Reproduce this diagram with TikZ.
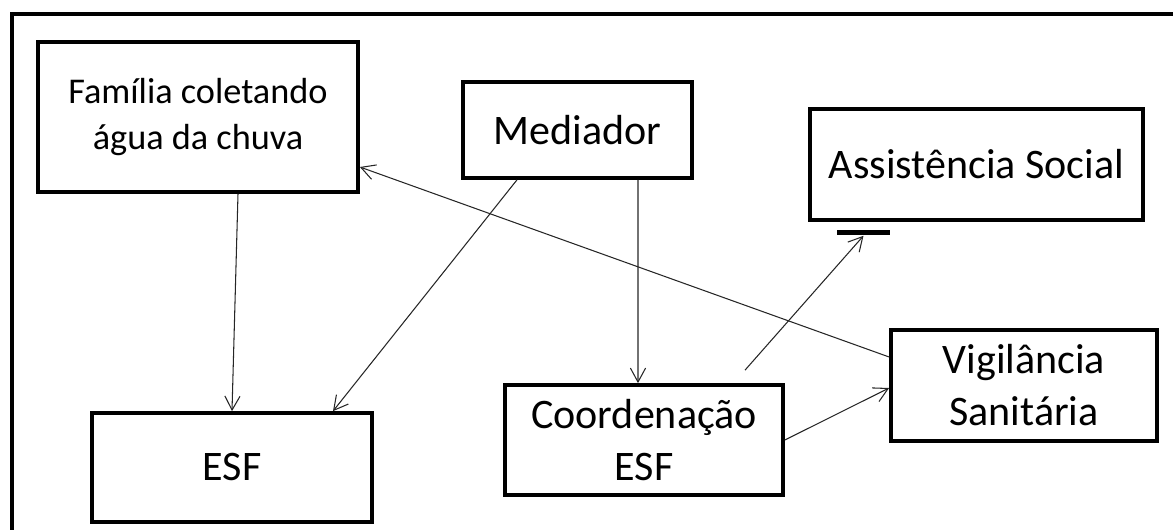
\documentclass[tikz,border=0pt]{standalone}
\usepackage{fontspec}
\setmainfont{Carlito}
\usetikzlibrary{arrows.meta,calc}
\begin{document}
\begin{tikzpicture}[x=0.025cm,y=-0.025cm,
  caixa/.style={draw,line width=2.6pt,align=center,inner sep=0pt,font=\fontsize{29.9pt}{37pt}\selectfont},
  seta/.style={draw,line width=0.75pt,black!85,-{Straight Barb[length=0.35cm,width=0.38cm]}}]
\useasboundingbox (0,0) rectangle (1173,530);
\draw[line width=2.6pt] (12,530) -- (12,14) -- (1173,14);

\node[caixa,minimum width=8cm,minimum height=3.75cm,font=\fontsize{25.8pt}{32.7pt}\selectfont] (fam) at (198,117) {Família coletando\\água da chuva};
\node[caixa,minimum width=5.725cm,minimum height=2.4cm] (med) at (577.5,130) {Mediador};
\node[caixa,minimum width=8.325cm,minimum height=2.775cm] (assist) at (976.5,164.5) {Assistência Social};
\node[caixa,minimum width=6.65cm,minimum height=2.775cm] (vig) at (1024,385.5) {Vigilância\\Sanitária};
\node[caixa,minimum width=6.95cm,minimum height=2.75cm] (coord) at (644,440) {Coordenação\\ESF};
\node[caixa,minimum width=7cm,minimum height=2.725cm] (esf) at (232,467.5) {ESF};
\node[fill,minimum width=1.325cm,minimum height=0.125cm,inner sep=0pt] (barra) at (863.5,233) {};
\coordinate (cstart) at ($(coord.north)+(101,-13)$);

\path[seta] ($(fam.south)+(40,0)$) -- (esf.north);
\path[seta] ($(med.south)+(-60.5,0)$) -- ($(esf.north)+(101,0)$);
\path[seta] ($(med.south)+(60.5,0)$) -- ($(coord.north)+(-6,0)$);
\path[seta] ($(vig.west)+(0,-28.5)$) -- ($(fam.east)+(0,50)$);
\path[seta] (coord.east) -- ($(vig.west)+(0,2.5)$);
\path[seta] (cstart) -- (barra.south);
\end{tikzpicture}
\end{document}
